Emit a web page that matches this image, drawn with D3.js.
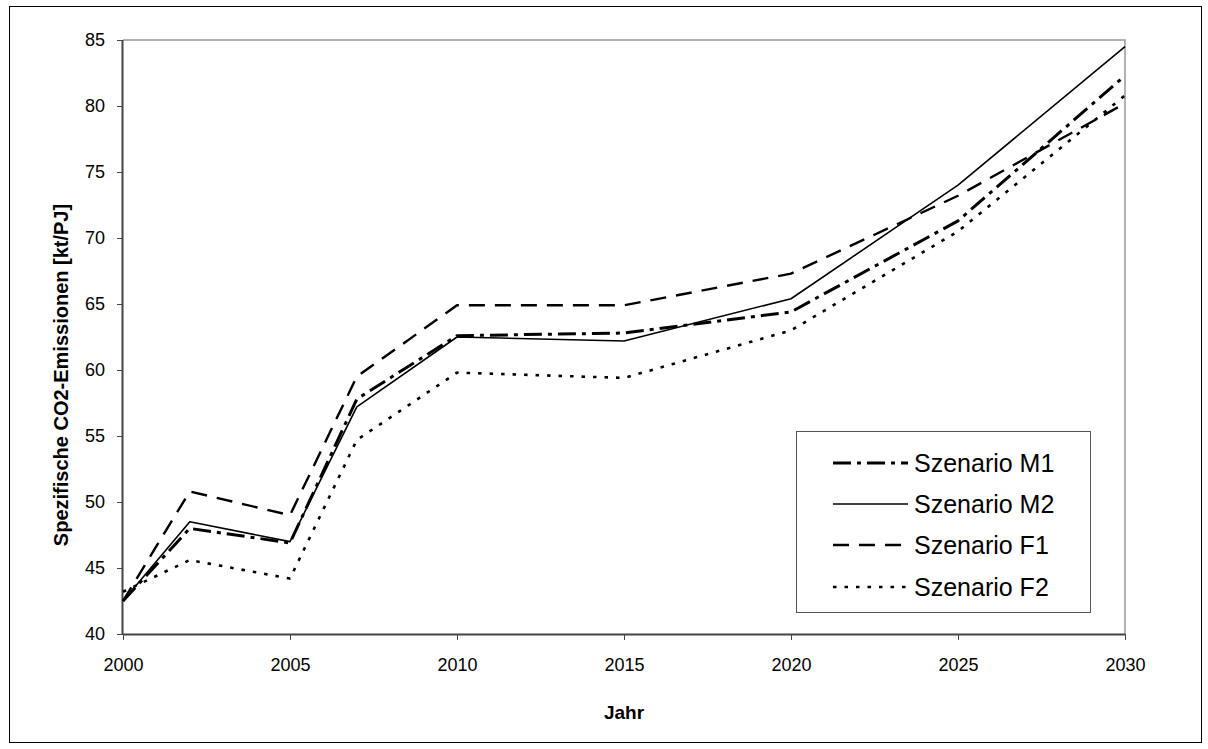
<!DOCTYPE html>
<html><head><meta charset="utf-8">
<script src="https://cdn.jsdelivr.net/npm/d3@7"></script>
<style>
html,body{margin:0;padding:0;background:#fff;}
svg{display:block;}
text{font-family:"Liberation Sans",Arial,sans-serif;fill:#000;}
</style></head><body>
<svg id="chart" width="1208" height="749"></svg>
<script>
const years = [2000, 2002, 2005, 2007, 2010, 2015, 2020, 2025, 2030];
const seriesNames = ["Szenario M1", "Szenario M2", "Szenario F1", "Szenario F2"];
const valuesM1 = [42.5, 48.0, 46.9, 57.8, 62.6, 62.8, 64.4, 71.3, 82.3];
const valuesM2 = [42.5, 48.5, 47.0, 57.2, 62.5, 62.2, 65.4, 74.0, 84.5];
const valuesF1 = [42.5, 50.8, 49.0, 59.5, 64.9, 64.9, 67.3, 73.2, 80.2];
const valuesF2 = [43.2, 45.6, 44.2, 54.7, 59.8, 59.4, 63.0, 70.5, 80.8];
const xTicks = [2000, 2005, 2010, 2015, 2020, 2025, 2030];
const yTicks = [40, 45, 50, 55, 60, 65, 70, 75, 80, 85];

const styles = [
  {width: 3, dash: "18,6,4,6"},
  {width: 1.6, dash: null},
  {width: 2.4, dash: "16,10"},
  {width: 2.6, dash: "3.5,8"}
];
const allValues = [valuesM1, valuesM2, valuesF1, valuesF2];

const svg = d3.select("#chart");
// outer frame
svg.append("rect").attr("x", 9.5).attr("y", 6.5).attr("width", 1192).attr("height", 736)
  .attr("fill", "none").attr("stroke", "#000").attr("stroke-width", 1);

const L = 123, R = 1125, T = 40, B = 634;
const x = d3.scaleLinear().domain([2000, 2030]).range([L, R]);
const y = d3.scaleLinear().domain([40, 85]).range([B, T]);

// plot border (top/right gray)
svg.append("path").attr("d", `M${L},${T}H${R}V${B}`).attr("fill", "none")
  .attr("stroke", "#999").attr("stroke-width", 1.5);

const xAxis = svg.append("g").attr("transform", `translate(0,${B})`)
  .call(d3.axisBottom(x).tickValues(xTicks).tickFormat(d3.format("d")).tickSize(6).tickPadding(18));
const yAxis = svg.append("g").attr("transform", `translate(${L},0)`)
  .call(d3.axisLeft(y).tickValues(yTicks).tickSize(6).tickPadding(12));
[xAxis, yAxis].forEach(g => {
  g.select(".domain").attr("stroke", "#444").attr("stroke-width", 2);
  g.selectAll(".tick line").attr("stroke", "#444").attr("stroke-width", 1);
  g.selectAll(".tick text").attr("font-size", 18).attr("font-family", "Liberation Sans, Arial, sans-serif").attr("fill", "#000");
});
xAxis.select(".domain").attr("d", `M${L},0.5H${R}`);
yAxis.select(".domain").attr("d", `M-0.5,${B}V${T}`);

const line = d3.line().x((d, i) => x(years[i])).y(d => y(d));
allValues.forEach((vals, k) => {
  svg.append("path").datum(vals).attr("d", line)
    .attr("fill", "none").attr("stroke", "#000")
    .attr("stroke-width", styles[k].width)
    .attr("stroke-dasharray", styles[k].dash)
    .attr("stroke-linejoin", "round");
});

// axis titles
svg.append("text").attr("x", 624).attr("y", 719).attr("text-anchor", "middle")
  .attr("font-size", 19).attr("font-weight", "bold").text("Jahr");
svg.append("text").attr("transform", "translate(68,375) rotate(-90)").attr("text-anchor", "middle")
  .attr("font-size", 20).attr("font-weight", "bold").text("Spezifische CO2-Emissionen [kt/PJ]");

// legend
const lg = svg.append("g");
lg.append("rect").attr("x", 796.5).attr("y", 431.5).attr("width", 294).attr("height", 181)
  .attr("fill", "#fff").attr("stroke", "#555").attr("stroke-width", 1);
const rowY = [463, 504, 545, 587];
seriesNames.forEach((name, k) => {
  lg.append("line").attr("x1", 833).attr("x2", 908).attr("y1", rowY[k]).attr("y2", rowY[k])
    .attr("stroke", "#000").attr("stroke-width", styles[k].width)
    .attr("stroke-dasharray", styles[k].dash);
  lg.append("text").attr("x", 914).attr("y", rowY[k]).attr("dy", "0.35em")
    .attr("font-size", 25).text(name);
});
</script>
</body></html>
